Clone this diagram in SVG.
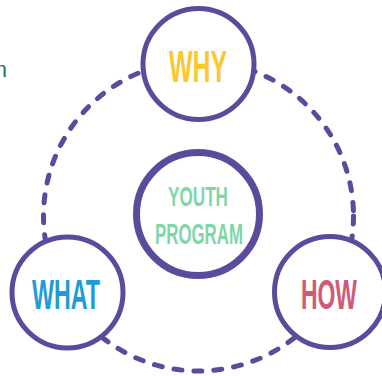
<svg xmlns="http://www.w3.org/2000/svg" width="382" height="376" viewBox="0 0 382 376">
<style>
.node circle{fill:#fff;stroke:#5b4b9d;stroke-width:5}
.lbl{font-family:"Liberation Sans",Arial,sans-serif;font-weight:bold;text-anchor:middle}
</style>
<rect width="382" height="376" fill="#fff"/>
<text x="7" y="77" font-family="Liberation Sans,Arial,sans-serif" font-size="22" fill="#1a7a5e" text-anchor="end">n</text>
<g id="connectors">
<circle cx="198.5" cy="216" r="155" fill="none" stroke="#5b4b9d" stroke-width="5" stroke-dasharray="8 12" stroke-linecap="round"/>
</g>
<g id="center" class="node">
<circle cx="198" cy="214" r="61.5" style="stroke-width:7"/>
<text class="lbl" x="198" y="206" font-size="27" fill="#7fd6a8" textLength="60" lengthAdjust="spacingAndGlyphs">YOUTH</text>
<text class="lbl" x="199" y="244" font-size="29" fill="#7fd6a8" textLength="88" lengthAdjust="spacingAndGlyphs">PROGRAM</text>
</g>
<g id="why" class="node">
<circle cx="198.5" cy="64" r="55.5"/>
<text class="lbl" x="198" y="82" font-size="44" fill="#fcc72f" textLength="58" lengthAdjust="spacingAndGlyphs">WHY</text>
</g>
<g id="what" class="node">
<circle cx="67.5" cy="292.5" r="55.5"/>
<text class="lbl" x="66" y="309" font-size="42" fill="#1e9cd7" textLength="68" lengthAdjust="spacingAndGlyphs">WHAT</text>
</g>
<g id="how" class="node">
<circle cx="330" cy="292" r="55.5"/>
<text class="lbl" x="329" y="309" font-size="42" fill="#d05a78" textLength="56" lengthAdjust="spacingAndGlyphs">HOW</text>
</g>
</svg>
